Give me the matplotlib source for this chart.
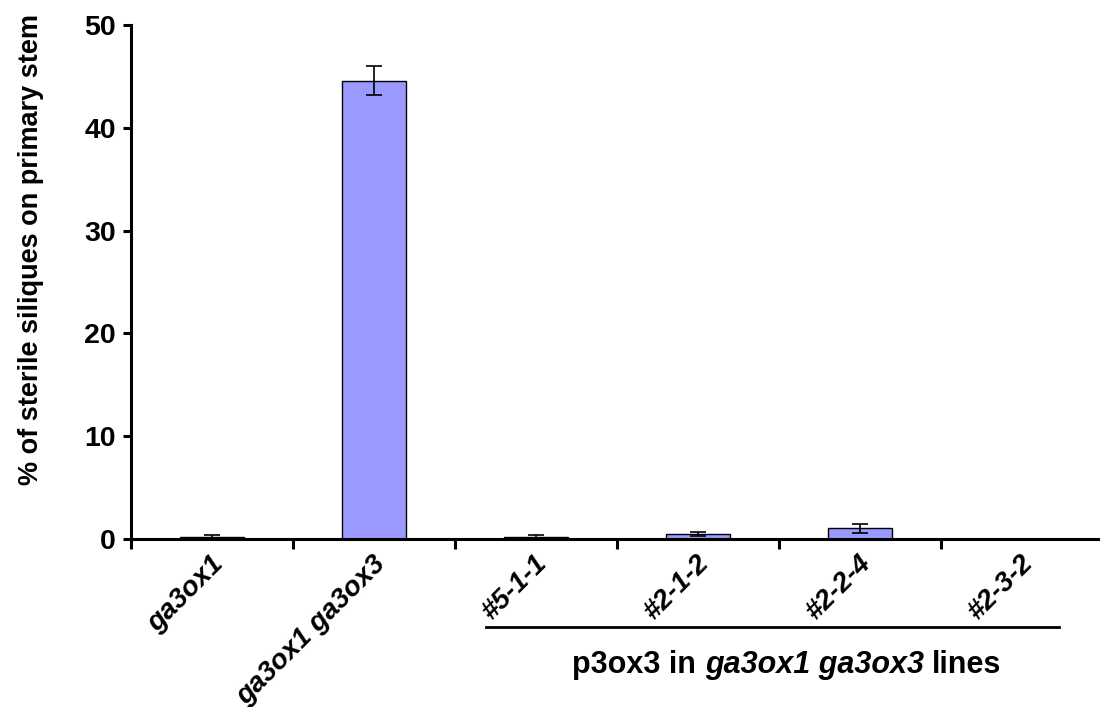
import matplotlib
matplotlib.use("Agg")
import matplotlib.pyplot as plt
import matplotlib.transforms as mtransforms
import numpy as np

categories = ["ga3ox1", "ga3ox1 ga3ox3", "#5-1-1", "#2-1-2", "#2-2-4", "#2-3-2"]
values = [0.2, 44.6, 0.2, 0.45, 1.05, 0.0]
errors = [0.15, 1.4, 0.15, 0.2, 0.42, 0.0]
yticks = [0, 10, 20, 30, 40, 50]
ylabel = "% of sterile siliques on primary stem"
group_parts = [("p3ox3 in ", "normal"), ("ga3ox1 ga3ox3", "italic"), (" lines", "normal")]

plt.rcParams['font.family'] = ['Liberation Sans', 'DejaVu Sans']
plt.rcParams['font.weight'] = 'bold'

W, H = 1100, 707
fig = plt.figure(figsize=(11, 7.07), dpi=100)
ax = fig.add_axes([131 / W, (H - 539) / H, 972 / W, (539 - 25) / H])

x = np.arange(len(categories))
ax.bar(x, values, width=0.4, color="#9999FF", edgecolor="black", linewidth=1.0, zorder=2)
ax.errorbar(x, values, yerr=errors, fmt='none', ecolor='black', elinewidth=1.2,
            capsize=5.5, capthick=1.2, zorder=3)

ax.set_xlim(-0.5, len(categories) - 0.5)
ax.set_ylim(0, 50)
ax.set_yticks(yticks)
ax.set_yticklabels([str(t) for t in yticks], fontsize=20.5, fontweight='bold')

for s in ['top', 'right']:
    ax.spines[s].set_visible(False)
for s in ['left', 'bottom']:
    ax.spines[s].set_linewidth(2.2)
ax.spines['bottom'].set_zorder(4)

ax.tick_params(axis='y', direction='out', length=6, width=2.2, pad=5)
ax.set_xticks(np.arange(len(categories) + 1) - 0.5)
ax.set_xticklabels([])
ax.tick_params(axis='x', which='major', direction='out', length=7, width=2.2)

ax.set_xticks(x, minor=True)
ax.set_xticklabels(categories, minor=True)
ax.tick_params(axis='x', which='minor', length=0, pad=15)
off = mtransforms.ScaledTranslation(7 / 100, 0, fig.dpi_scale_trans)
for lbl in ax.get_xticklabels(minor=True):
    lbl.set_rotation(45)
    lbl.set_ha('right')
    lbl.set_va('center')
    lbl.set_rotation_mode('anchor')
    lbl.set_fontsize(20)
    lbl.set_fontweight('bold')
    lbl.set_fontstyle('italic')
    lbl.set_transform(lbl.get_transform() + off)

ax.set_ylabel(ylabel, fontsize=19.5, fontweight='bold')
ax.yaxis.set_label_coords(-0.089, 0.563)

# group bracket and label
trans = mtransforms.blended_transform_factory(ax.transData, ax.transAxes)
ax.plot([1.69, 5.23], [-0.171, -0.171], transform=trans, color='black', lw=2.0, clip_on=False)

renderer = fig.canvas.get_renderer()
texts = []
for s, style in group_parts:
    t = fig.text(0, 0, s.strip(), fontsize=22, fontweight='bold', fontstyle=style,
                 ha='left', va='baseline')
    texts.append(t)
a1 = fig.text(0, 0, "a a", fontsize=22, fontweight='bold')
a2 = fig.text(0, 0, "aa", fontsize=22, fontweight='bold')
sp = a1.get_window_extent(renderer).width - a2.get_window_extent(renderer).width
a1.remove()
a2.remove()
widths = [t.get_window_extent(renderer).width for t in texts]
total = sum(widths) + 2 * sp
center_x = ax.transData.transform((3.55, 0))[0]
base_y = ax.transAxes.transform((0, -0.261))[1]
cur = center_x - total / 2
for t, w in zip(texts, widths):
    t.set_position((cur / fig.bbox.width, base_y / fig.bbox.height))
    cur += w + sp

fig.savefig("out.png", dpi=100)
